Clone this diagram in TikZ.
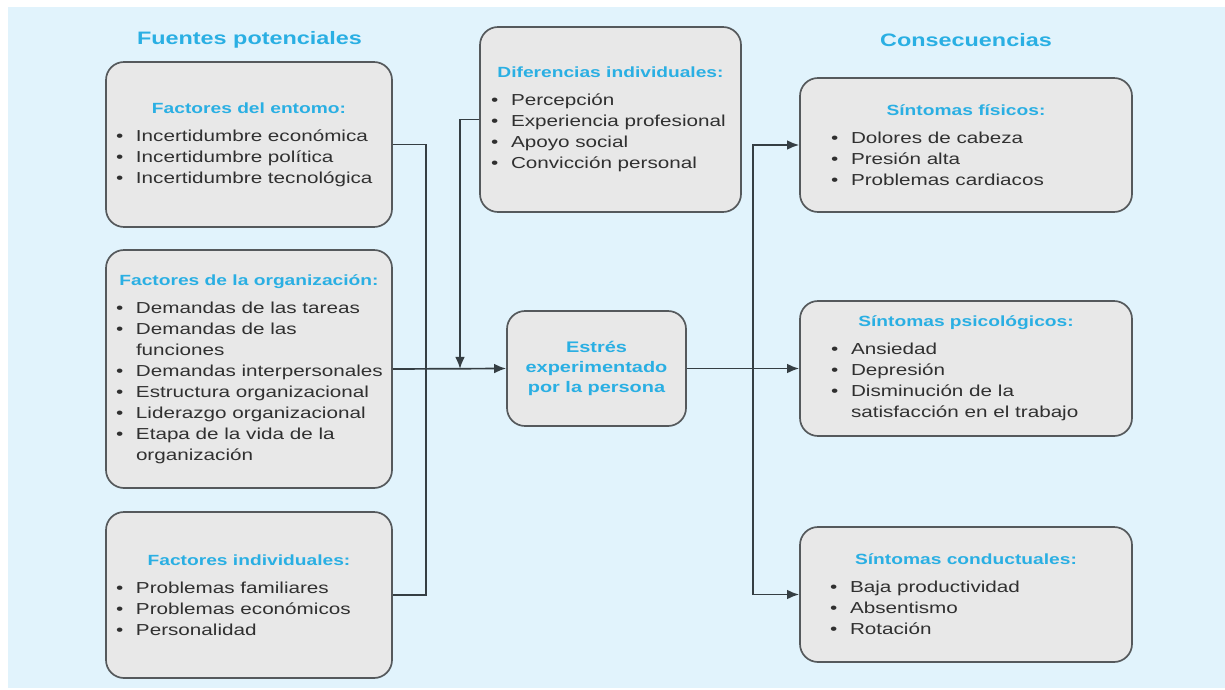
\documentclass[tikz,border=0pt]{standalone}
\usepackage{fontspec}
\setmainfont{Liberation Sans}[FakeStretch=1.3]
\usetikzlibrary{arrows.meta}

\newdimen\pxu
\pxu=0.025cm

\definecolor{fondo}{HTML}{E1F3FC}
\definecolor{caja}{HTML}{E8E8E8}
\definecolor{borde}{HTML}{55595C}
\definecolor{celeste}{HTML}{2AAFE3}
\definecolor{texto}{HTML}{303030}
\definecolor{linea}{HTML}{353E43}

\newcommand\titfont{\fontsize{12.8}{15}\selectfont\bfseries}
\newcommand\cabfont{\fontsize{10.5}{14}\selectfont\bfseries}
\newcommand\estfont{\fontsize{10.9}{14.2}\selectfont\bfseries}
\newcommand\cuerpo{\fontsize{11.3}{14.9}\selectfont}
\newcommand\cab[1]{{\cabfont\color{celeste}#1}}
\newcommand\itm[1]{\hangindent=20\pxu\hangafter=1\makebox[20\pxu][l]{\textbullet}#1\par}
\newcommand\lista[2]{\parbox[t]{#1\pxu}{\raggedright\hbadness=10000\hfuzz=50pt #2}}

\tikzset{
  titulo/.style={font=\titfont, text=celeste},
  panel/.style={draw=borde, line width=1.2pt, fill=caja, rounded corners=18\pxu,
    inner sep=0pt, align=center, font=\cuerpo, text=texto},
  conexion/.style={draw=linea, line width=1.2pt},
  flecha/.style={conexion, -{Latex[length=0.3cm,width=0.24cm]}},
}

\begin{document}
\begin{tikzpicture}[x=0.025cm, y=-0.025cm]
  \useasboundingbox (0,0) rectangle (1225,690);
  \fill[fondo] (8,7) rectangle (1225,688);

  % titulos
  \node[titulo] (fuentes) at (249.5,40) {Fuentes potenciales};
  \node[titulo] (consec) at (966,40) {Consecuencias};

  % fuentes potenciales
  \node[panel, minimum width=286\pxu, minimum height=165\pxu] (entorno) at (249,144.5)
    {\cab{Factores del entomo:}\\[5pt]
     \lista{266}{\itm{Incertidumbre económica}
                 \itm{Incertidumbre política}
                 \itm{Incertidumbre tecnológica}}};

  \node[panel, minimum width=286\pxu, minimum height=238\pxu] (organiz) at (249,369)
    {\cab{Factores de la organización:}\\[5pt]
     \lista{266}{\itm{Demandas de las tareas}
                 \itm{Demandas de las\newline funciones}
                 \itm{\mbox{Demandas interpersonales}}
                 \itm{Estructura organizacional}
                 \itm{Liderazgo organizacional}
                 \itm{Etapa de la vida de la\newline organización}}};

  \node[panel, minimum width=286\pxu, minimum height=166\pxu] (individ) at (249,595)
    {\cab{Factores individuales:}\\[5pt]
     \lista{266}{\itm{Problemas familiares}
                 \itm{Problemas económicos}
                 \itm{Personalidad}}};

  % centro
  \node[panel, minimum width=261\pxu, minimum height=185\pxu] (difer) at (610.5,119.5)
    {\cab{Diferencias individuales:}\\[5pt]
     \lista{239}{\itm{Percepción}
                 \itm{Experiencia profesional}
                 \itm{Apoyo social}
                 \itm{Convicción personal}}};

  \node[panel, minimum width=179\pxu, minimum height=115\pxu, font=\estfont, text=celeste]
    (estres) at (596.5,368.5) {Estrés\\experimentado\\por la persona};

  % consecuencias
  \node[panel, minimum width=332\pxu, minimum height=134\pxu] (fisicos) at (966,145)
    {\cab{Síntomas físicos:}\\[5pt]
     \lista{270}{\itm{Dolores de cabeza}
                 \itm{Presión alta}
                 \itm{Problemas cardiacos}}};

  \node[panel, minimum width=332\pxu, minimum height=135\pxu] (psico) at (966,368.5)
    {\cab{Síntomas psicológicos:}\\[5pt]
     \lista{270}{\itm{Ansiedad}
                 \itm{Depresión}
                 \itm{Disminución de la\newline satisfacción en el trabajo}}};

  \node[panel, minimum width=332\pxu, minimum height=135\pxu] (conduct) at (966,594.5)
    {\cab{Síntomas conductuales:}\\[5pt]
     \lista{272}{\itm{Baja productividad}
                 \itm{Absentismo}
                 \itm{Rotación}}};

  % conexiones
  \coordinate (busL) at (426,369);
  \coordinate (unionD) at (460,369);
  \coordinate (busR) at (753,369);

  \draw[conexion] (entorno.east) -| (busL) |- (individ.east);
  \draw[flecha] (organiz.east) -- (estres.west);
  \draw[flecha] (difer.west) -| (unionD);
  \draw[flecha] (estres.east) -- (psico.west);
  \draw[flecha] (busR) |- (fisicos.west);
  \draw[flecha] (busR) |- (conduct.west);
\end{tikzpicture}
\end{document}
